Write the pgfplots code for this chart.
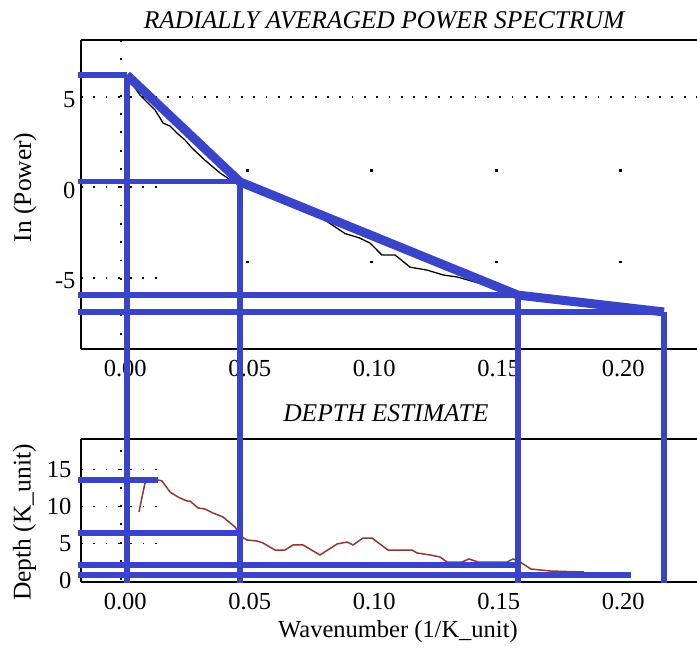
\documentclass[border=0pt]{standalone}
\usepackage{fontspec}
\setmainfont{Liberation Serif}
\usepackage{pgfplots}
\pgfplotsset{compat=1.18}

\definecolor{fitblue}{RGB}{58,68,200}
\definecolor{depthred}{RGB}{145,55,45}

\pgfplotsset{
  spec/.style={
    scale only axis, width=616pt,
    xmin=-0.01775, xmax=0.22964,
    axis x line=box, axis y line=left,
    axis line style={-, line width=1.5pt, black},
    xtick={0,0.05,0.10,0.15,0.20},
    xticklabels={0.00,0.05,0.10,0.15,0.20},
    major tick length=0pt,
    tick label style={font=\fontsize{24.5}{29}\selectfont},
    label style={font=\fontsize{24.5}{29}\selectfont},
    ylabel style={font=\fontsize{25.5}{30}\selectfont},
    title style={font=\itshape\fontsize{25.5}{30}\selectfont, anchor=center},
    every axis title shift=0pt,
    clip=false,
  },
  hdots/.style={black, line width=1.8pt, dash pattern=on 1.8pt off 10.5pt},
  vdots/.style={black, line width=1.8pt, dash pattern=on 1.8pt off 16.5pt},
  fit/.style={fitblue, line width=5.5pt},
}

\begin{document}
\begin{tikzpicture}
\path[use as bounding box] (0,0) rectangle (697pt,648pt);

% ---- radially averaged power spectrum
\begin{axis}[spec, at={(81pt,299pt)}, anchor=south west, height=309pt,
    ymin=-8.91, ymax=8.12,
    ytick={-5,0,5}, yticklabels={-5,0,5},
    yticklabel style={yshift=-3pt, xshift=-2pt},
    xticklabel style={yshift=-8pt},
    title={RADIALLY AVERAGED POWER SPECTRUM},
    title style={at={(axis description cs:0.492,1.065)}},
    ylabel={In (Power)},
    ylabel style={at={(axis description cs:-0.0909,0.523)}, anchor=center},
  ]
  \addplot[hdots] coordinates {(-0.01775,5) (0.22964,5)};
  \addplot[hdots] coordinates {(-0.01775,0) (0.014,0)};
  \addplot[hdots] coordinates {(-0.01775,-5) (0.014,-5)};
  \addplot[vdots] coordinates {(-0.0017,8.12) (-0.0017,-8.91)};
  \addplot[only marks, mark=square*, mark size=0.9pt, black] coordinates {
      (0.0489,0.95) (0.0987,0.95) (0.1489,0.95) (0.1987,0.95)
      (0.0489,-4.10) (0.0987,-4.10) (0.1489,-4.10) (0.1987,-4.10)
    };
  % observed spectrum
  \addplot[black, line width=1.3pt] coordinates {
      (0.0007,6.13) (0.0059,5.09) (0.0120,4.26) (0.0140,3.82) (0.0152,3.54)
      (0.0180,3.38) (0.0208,2.99) (0.0240,2.61) (0.0268,2.17) (0.0320,1.50)
      (0.0381,0.79) (0.0429,0.35) (0.0461,0.20) (0.0541,-0.28) (0.0662,-0.93)
      (0.0782,-1.62) (0.0883,-2.55) (0.0941,-2.79) (0.0983,-3.07) (0.1031,-3.73)
      (0.1084,-3.73) (0.1144,-4.40) (0.1212,-4.56) (0.1277,-4.83) (0.1333,-4.94)
      (0.1425,-5.30) (0.1505,-5.70) (0.1578,-5.98) (0.1746,-6.25) (0.1907,-6.55)
      (0.2068,-6.80) (0.2148,-6.87)
    };
  % segment fit
  \addplot[fitblue, line width=9pt, line join=round] coordinates {
      (0.0007,6.19) (0.0461,0.30) (0.1577,-5.94) (0.2164,-6.87)
    };
  \addplot[fit] coordinates {(-0.019,6.19) (0.0007,6.19)};
  \addplot[fit] coordinates {(-0.019,0.33) (0.0461,0.33)};
  \addplot[fit] coordinates {(-0.019,-5.94) (0.1577,-5.94)};
  \addplot[fit] coordinates {(-0.019,-6.87) (0.2164,-6.87)};
\end{axis}

% ---- depth estimate
\begin{axis}[spec, at={(81pt,66pt)}, anchor=south west, height=143pt,
    ymin=-0.2, ymax=19.12,
    ytick={0,5,10,15}, yticklabels={0,5,10,15},
    yticklabel style={xshift=-6pt},
    xticklabel style={yshift=-8pt},
    title={DEPTH ESTIMATE},
    title style={at={(axis description cs:0.495,1.18)}},
    xlabel={Wavenumber (1/K\_unit)},
    xlabel style={at={(axis description cs:0.5146,-0.345)}, anchor=center},
    ylabel={Depth (K\_unit)},
    ylabel style={at={(axis description cs:-0.0917,0.416)}, anchor=center},
  ]
  \addplot[hdots] coordinates {(-0.01775,15) (0.014,15)};
  \addplot[hdots] coordinates {(-0.01775,10) (0.014,10)};
  \addplot[hdots] coordinates {(-0.01775,5) (0.014,5)};
  \addplot[vdots] coordinates {(-0.0017,17.6) (-0.0017,-0.2)};
  \addplot[depthred, line width=1.5pt] coordinates {
      (0.00554,9.26) (0.00795,13.18) (0.00996,13.51) (0.01317,13.58) (0.01478,13.45)
      (0.01799,11.96) (0.02120,11.28) (0.02482,10.74) (0.02602,10.74) (0.02924,9.80)
      (0.03205,9.66) (0.03526,9.12) (0.03928,8.58) (0.04410,7.23) (0.04691,5.88)
      (0.04892,5.47) (0.05293,5.34) (0.05534,5.07) (0.06016,4.12) (0.06418,4.12)
      (0.06739,4.80) (0.07141,4.80) (0.07823,3.45) (0.08506,4.93) (0.08908,5.20)
      (0.09149,4.80) (0.09550,5.74) (0.09912,5.74) (0.10554,4.12) (0.11518,4.12)
      (0.11719,3.72) (0.12241,3.45) (0.12643,3.18) (0.12924,2.50) (0.13526,2.50)
      (0.13807,2.91) (0.14169,2.50) (0.15333,2.50) (0.15574,2.91) (0.15855,2.50)
      (0.16297,1.55) (0.17100,1.28) (0.18426,1.15)
    };
  \addplot[fit] coordinates {(-0.019,13.58) (0.0132,13.58)};
  \addplot[fit] coordinates {(-0.019,6.44) (0.0461,6.44)};
  \addplot[fit] coordinates {(-0.019,2.07) (0.1577,2.07)};
  \addplot[fit] coordinates {(-0.019,0.72) (0.2032,0.72)};
  % verticals running up through the spectrum panel
  \addplot[fit] coordinates {(0.0007,68.3) (0.0007,-0.3)};
  \addplot[fit] coordinates {(0.0461,54.0) (0.0461,-0.3)};
  \addplot[fit] coordinates {(0.1577,38.6) (0.1577,-0.3)};
  \addplot[fit] coordinates {(0.2164,36.3) (0.2164,-0.3)};
\end{axis}
\end{tikzpicture}
\end{document}
